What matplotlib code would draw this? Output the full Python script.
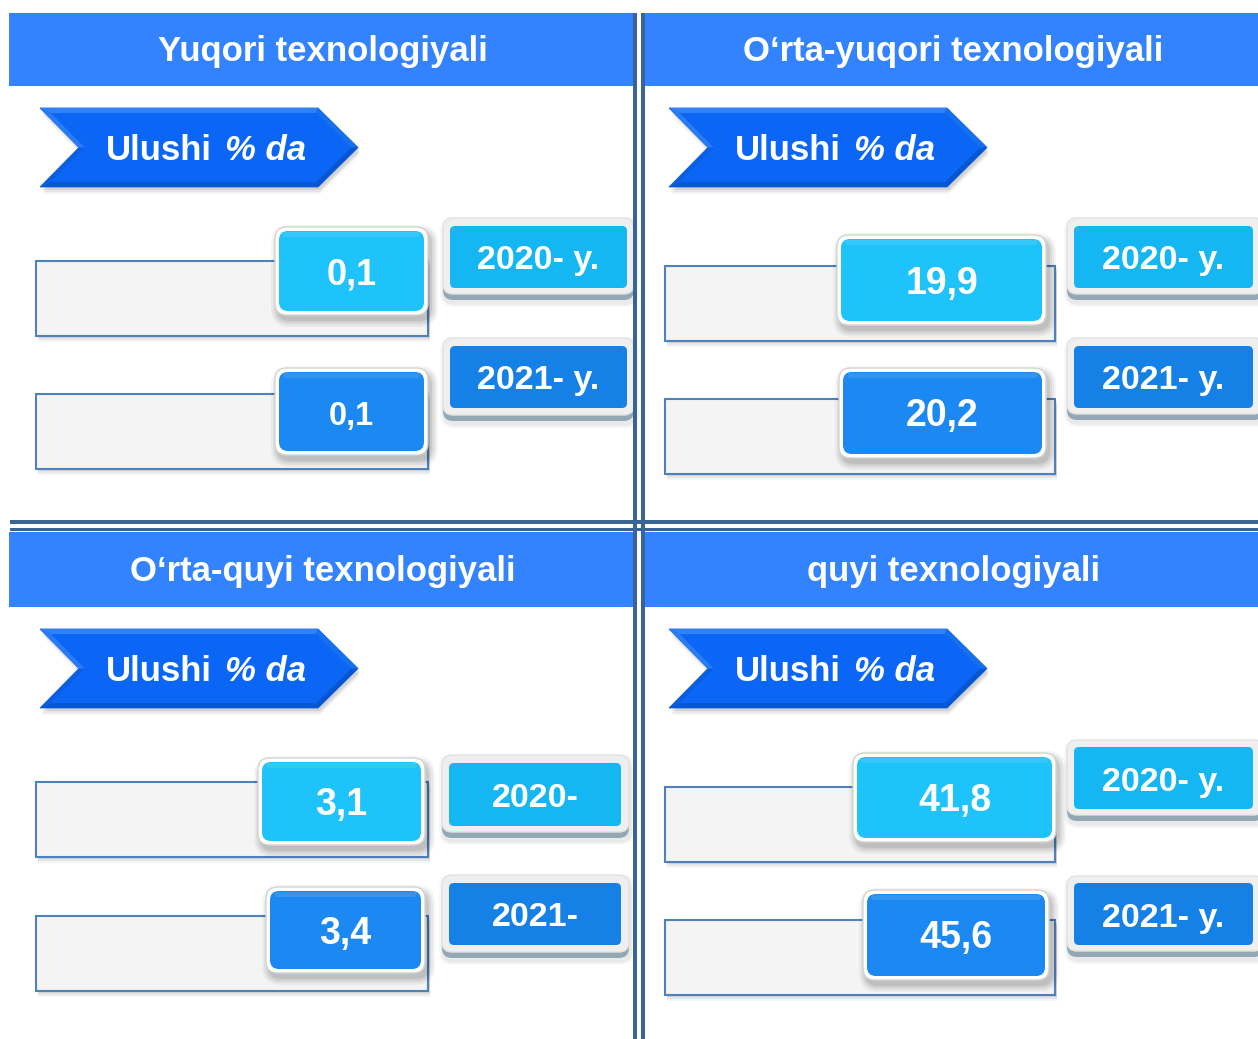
import matplotlib
matplotlib.use('Agg')
import matplotlib.pyplot as plt
from matplotlib.patches import FancyBboxPatch, Polygon, Rectangle

plt.rcParams['font.family'] = ['Liberation Sans', 'DejaVu Sans']

# ---------------- data ----------------
categories = ["Yuqori texnologiyali", "O\u2018rta-yuqori texnologiyali",
              "O\u2018rta-quyi texnologiyali", "quyi texnologiyali"]
values_2020 = [0.1, 19.9, 3.1, 41.8]
values_2021 = [0.1, 20.2, 3.4, 45.6]
year_labels_2020 = ["2020- y.", "2020- y.", "2020-", "2020- y."]
year_labels_2021 = ["2021- y.", "2021- y.", "2021-", "2021- y."]
banner_word = "Ulushi"
banner_unit = "% da"

# ---------------- layout (pixels) ----------------
W, H = 1258, 1039
panels = [
    dict(header=(9, 13, 633, 86), ax0=40, ay=(108, 187),
         bar_x=(36, 428), bar_y=[(261, 336), (394, 469)],
         val_box=[(275, 227, 428, 315), (275, 368, 428, 455)],
         yr_outer=[(443, 218, 634, 300), (443, 338, 634, 421)],
         yr_inner=[(450, 226, 627, 288), (450, 346, 627, 408)],
         val_size=[26, 23.5]),
    dict(header=(645, 13, 1258, 86), ax0=669, ay=(108, 187),
         bar_x=(665, 1055), bar_y=[(266, 341), (399, 474)],
         val_box=[(837, 235, 1046, 325), (839, 368, 1046, 458)],
         yr_outer=[(1067, 218, 1264, 300), (1067, 338, 1264, 420)],
         yr_inner=[(1074, 226, 1253, 288), (1074, 346, 1253, 408)],
         val_size=[27, 27]),
    dict(header=(9, 532, 633, 607), ax0=40, ay=(629, 708),
         bar_x=(36, 428), bar_y=[(782, 857), (916, 991)],
         val_box=[(258, 758, 425, 845), (266, 887, 425, 973)],
         yr_outer=[(442, 755, 629, 838), (442, 875, 629, 958)],
         yr_inner=[(449, 763, 621, 826), (449, 883, 621, 945)],
         val_size=[27, 27]),
    dict(header=(645, 532, 1258, 607), ax0=669, ay=(629, 708),
         bar_x=(665, 1055), bar_y=[(787, 862), (920, 995)],
         val_box=[(853, 753, 1056, 842), (863, 890, 1049, 980)],
         yr_outer=[(1067, 740, 1264, 821), (1067, 876, 1264, 957)],
         yr_inner=[(1074, 747, 1253, 809), (1074, 883, 1253, 945)],
         val_size=[27, 27]),
]

HEADER = '#3383FF'
DIVIDER = '#3A6496'
VAL_COL = ['#1FC3FB', '#1C88F1']
YR_COL = ['#15B7F2', '#1581E6']
BAR_FC = '#F4F4F4'
BAR_EC = '#4F81BD'

fig = plt.figure(figsize=(W / 100, H / 100), dpi=100)
ax = fig.add_axes([0, 0, 1, 1])
ax.set_xlim(0, W)
ax.set_ylim(H, 0)
ax.axis('off')


def rbox(x1, y1, x2, y2, r, **kw):
    p = FancyBboxPatch((x1, y1), x2 - x1, y2 - y1,
                       boxstyle=f"round,pad=0,rounding_size={r}", **kw)
    ax.add_patch(p)
    return p


def soft_shadow(x1, y1, x2, y2, r, dx, dy, z, layers=((7, 0.04), (5, 0.05), (3, 0.06), (1, 0.08))):
    for pad, a in layers:
        rbox(x1 + dx - pad, y1 + dy - pad, x2 + dx + pad, y2 + dy + pad, r + pad,
             fc='black', ec='none', alpha=a, zorder=z)


def fmt(v):
    return f"{v:.1f}".replace('.', ',')


def banner(x0, yt, yb):
    ym = (yt + yb) / 2
    outer = [(x0, yt), (x0 + 278, yt), (x0 + 318, ym), (x0 + 278, yb), (x0, yb), (x0 + 39, ym)]
    d = 5
    inner = [(x0 + 11, yt + d), (x0 + 276, yt + d), (x0 + 311, ym), (x0 + 276, yb - d),
             (x0 + 11, yb - d), (x0 + 45, ym)]
    # shadow
    for off, a in ((7, 0.04), (5, 0.06), (3, 0.08)):
        sh = [(x + 2, y + off) for x, y in outer]
        ax.add_patch(Polygon(sh, closed=True, fc='black', ec='none', alpha=a, zorder=2))
    ax.add_patch(Polygon(outer, closed=True, fc='#0A64F2', ec='#1A66D8', lw=0.6, zorder=3))
    facet_cols = ['#2F82F8', '#1670EE', '#0656D2', '#0758D6', '#0A5EE4', '#2A7CF6']
    for i in range(6):
        j = (i + 1) % 6
        ax.add_patch(Polygon([outer[i], outer[j], inner[j], inner[i]], closed=True,
                             fc=facet_cols[i], ec='none', zorder=3.5))
    ax.add_patch(Polygon(inner, closed=True, fc='#0B66F6', ec='none', zorder=3.6))
    ax.text(x0 + 66, ym + 12.5, banner_word, color='white', fontsize=25, fontweight='bold',
            ha='left', va='baseline', zorder=4)
    ax.text(x0 + 185, ym + 12.5, banner_unit, color='white', fontsize=25, fontweight='bold',
            fontstyle='italic', ha='left', va='baseline', zorder=4)


# dividers
for xc in (635, 643):
    ax.add_patch(Rectangle((xc - 2, 13), 4, H - 13, fc=DIVIDER, ec='none', zorder=8))
for yc in (522, 529.5):
    ax.add_patch(Rectangle((10, yc - 1.8), W - 10, 3.6, fc=DIVIDER, ec='none', zorder=7))

vals = [values_2020, values_2021]
ylabs = [year_labels_2020, year_labels_2021]

for k, p in enumerate(panels):
    hx1, hy1, hx2, hy2 = p['header']
    ax.add_patch(Rectangle((hx1, hy1), hx2 - hx1, hy2 - hy1, fc=HEADER, ec='none', zorder=1))
    ax.text((hx1 + hx2) / 2 + 2, hy1 + 48.5, categories[k], color='white', fontsize=25,
            fontweight='bold', ha='center', va='baseline', zorder=2)

    banner(p['ax0'], *p['ay'])

    bx1, bx2 = p['bar_x']
    for s in range(2):
        by1, by2 = p['bar_y'][s]
        # bar shadow
        for off, a in ((6, 0.04), (4, 0.06), (2, 0.08)):
            ax.add_patch(Rectangle((bx1 + 2, by1 + off), bx2 - bx1, by2 - by1,
                                   fc='black', ec='none', alpha=a, zorder=2))
        ax.add_patch(Rectangle((bx1, by1), bx2 - bx1, by2 - by1, fc=BAR_FC, ec=BAR_EC,
                               lw=1.5, zorder=3))

        # value box
        x1, y1, x2, y2 = p['val_box'][s]
        soft_shadow(x1, y1, x2, y2, 12, 3, 5, 4)
        rbox(x1, y1, x2, y2, 12, fc='white', ec='#D4D4D4', lw=1, zorder=5)
        rbox(x1 + 4, y1 + 4, x2 - 4, y2 - 4, 9, fc=VAL_COL[s], ec='none', zorder=6)
        rbox(x1 + 8, y1 + 5, x2 - 8, y1 + 10, 3, fc='white', ec='none', alpha=0.10, zorder=6.5)
        ax.text((x1 + x2) / 2, (y1 + y2) / 2 + 13.5, fmt(vals[s][k]), color='white',
                fontsize=p['val_size'][s], fontweight='bold', ha='center', va='baseline',
                zorder=7)

        # year box
        ox1, oy1, ox2, oy2 = p['yr_outer'][s]
        soft_shadow(ox1, oy1, ox2, oy2, 10, 1, 3, 4,
                    layers=((4, 0.03), (2, 0.05)))
        rbox(ox1, oy1 + 6, ox2, oy2, 10, fc='#93A8B4', ec='none', zorder=5)
        rbox(ox1, oy1, ox2, oy2 - 6, 10, fc='#EFEFEF', ec='#E2E2E2', lw=1, zorder=5.5)
        ix1, iy1, ix2, iy2 = p['yr_inner'][s]
        rbox(ix1, iy1, ix2, iy2, 5, fc=YR_COL[s], ec='none', zorder=6)
        ax.text((ix1 + ix2) / 2, (iy1 + iy2) / 2 + 12.5, ylabs[s][k], color='white',
                fontsize=24.5, fontweight='bold', ha='center', va='baseline', zorder=7)

fig.savefig('out.png', dpi=100, facecolor='white')
